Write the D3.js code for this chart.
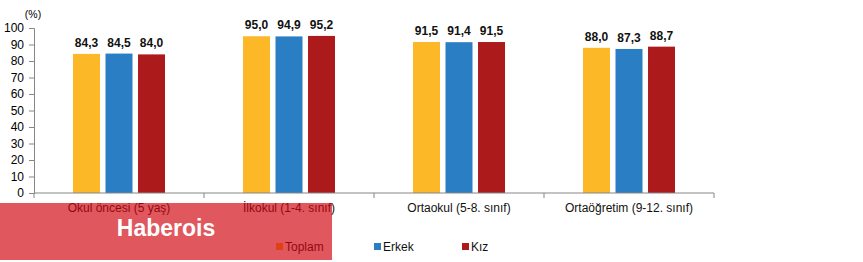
<!DOCTYPE html>
<html>
<head>
<meta charset="utf-8">
<script src="https://cdn.jsdelivr.net/npm/d3@7"></script>
<style>
  body { margin: 0; background: #fff; }
  svg { display: block; font-family: "Liberation Sans", Arial, sans-serif; }
</style>
</head>
<body>
<div id="chart"></div>
<script>
// dados
const categories = ["Okul öncesi (5 yaş)", "İlkokul (1-4. sınıf)", "Ortaokul (5-8. sınıf)", "Ortaöğretim (9-12. sınıf)"];
const seriesNames = ["Toplam", "Erkek", "Kız"];
const toplam = [84.3, 95.0, 91.5, 88.0];
const erkek = [84.5, 94.9, 91.4, 87.3];
const kiz = [84.0, 95.2, 91.5, 88.7];
const yTicks = [0, 10, 20, 30, 40, 50, 60, 70, 80, 90, 100];
const colors = ["#FDB827", "#2A7EC3", "#AD1A1C"];

const W = 863, H = 262;
const svg = d3.select("#chart").append("svg").attr("width", W).attr("height", H);

const seriesVals = [toplam, erkek, kiz];
const rows = categories.map((c, i) => ({
  cat: c,
  vals: seriesNames.map((s, j) => ({ key: s, value: seriesVals[j][i] }))
}));

// escalas
const x0 = d3.scaleBand().domain(categories).range([34, 714]);
const x1 = d3.scaleBand().domain(seriesNames).range([39, 131]).paddingInner(0.17);
const y = d3.scaleLinear().domain([0, 100]).range([193, 28]);
const color = d3.scaleOrdinal().domain(seriesNames).range(colors);

// eixo Y
const yAxis = svg.append("g")
  .attr("transform", "translate(34,0)")
  .call(d3.axisLeft(y).tickValues(yTicks).tickSize(5).tickPadding(5));
yAxis.select(".domain").attr("stroke", "#868686");
yAxis.selectAll(".tick line").attr("stroke", "#868686");
yAxis.selectAll("text").attr("font-size", 12).attr("fill", "#000");

svg.append("text")
  .attr("x", 33).attr("y", 18)
  .attr("text-anchor", "middle")
  .attr("font-size", 10.5)
  .text("(%)");

// barras
const groups = svg.selectAll(".grp").data(rows).enter().append("g")
  .attr("transform", d => `translate(${x0(d.cat)},0)`);

groups.selectAll("rect").data(d => d.vals).enter().append("rect")
  .attr("x", d => x1(d.key))
  .attr("y", d => y(d.value))
  .attr("width", x1.bandwidth())
  .attr("height", d => y(0) - y(d.value))
  .attr("fill", d => color(d.key));

groups.selectAll(".lbl").data(d => d.vals).enter().append("text")
  .attr("x", d => x1(d.key) + x1.bandwidth() / 2)
  .attr("y", d => y(d.value) - 7)
  .attr("text-anchor", "middle")
  .attr("font-size", 12)
  .attr("font-weight", "bold")
  .attr("fill", "#111")
  .text(d => d.value.toFixed(1).replace(".", ","));

// eixo X
const xAxis = svg.append("g")
  .attr("transform", "translate(0,193)")
  .call(d3.axisBottom(x0).tickSize(0).tickPadding(0).tickFormat(""));
xAxis.select(".domain").attr("stroke", "#868686").attr("d", "M34,0H714");
xAxis.selectAll(".sep").data(x0.range().concat(categories.slice(1).map(c => x0(c))))
  .enter().append("line")
  .attr("class", "sep")
  .attr("x1", d => d).attr("x2", d => d)
  .attr("y1", 0).attr("y2", 5)
  .attr("stroke", "#868686");

svg.selectAll(".cat").data(categories).enter().append("text")
  .attr("x", d => x0(d) + x0.bandwidth() / 2)
  .attr("y", 212)
  .attr("text-anchor", "middle")
  .attr("font-size", 12)
  .attr("fill", "#111")
  .text(d => d);

// legenda
const legX = [276, 374, 462];
const leg = svg.selectAll(".leg").data(seriesNames).enter().append("g")
  .attr("transform", (d, i) => `translate(${legX[i]},247)`);
leg.append("rect").attr("x", 0).attr("y", -4).attr("width", 7).attr("height", 7)
  .attr("fill", d => color(d));
leg.append("text").attr("x", 9).attr("y", 4)
  .attr("font-size", 12).attr("fill", "#111").text(d => d);

// marca d'água (semi-transparente)
svg.append("rect")
  .attr("x", 0).attr("y", 203).attr("width", 332).attr("height", 57)
  .attr("fill", "#D1040F").attr("opacity", 0.67);
svg.append("text")
  .attr("x", 166).attr("y", 236)
  .attr("text-anchor", "middle")
  .attr("font-size", 23)
  .attr("font-weight", "bold")
  .attr("fill", "#fff")
  .text("Haberois");
</script>
</body>
</html>
